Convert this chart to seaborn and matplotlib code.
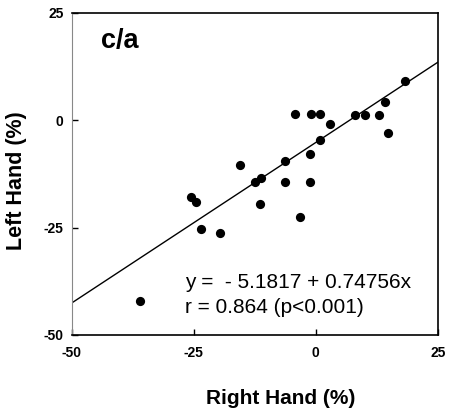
import matplotlib
matplotlib.use("Agg")
import matplotlib.pyplot as plt
import seaborn as sns
import numpy as np
import pandas as pd

# Data
right_hand = [18.2, 14.2, 13.0, 14.8, 10.0, 8.0, 2.8, 0.9, -1.0, -4.2,
              0.8, -1.1, -6.4, -15.5, -11.3, -12.5, -6.4, -1.2, -11.4, -3.3,
              -25.5, -24.5, -23.6, -19.7, -36.0]
left_hand = [9.1, 4.2, 1.2, -2.9, 1.2, 1.2, -0.8, 1.4, 1.4, 1.4,
             -4.6, -7.8, -9.5, -10.5, -13.5, -14.4, -14.5, -14.5, -19.4, -22.6,
             -17.9, -19.1, -25.3, -26.2, -42.0]
intercept = -5.1817
slope = 0.74756
line_x = [-50, 25]
x_ticks = [-50, -25, 0, 25]
y_ticks = [-50, -25, 0, 25]
panel_label = "c/a"
eq_lines = ["y =  - 5.1817 + 0.74756x", "r = 0.864 (p<0.001)"]

sns.set_theme(style="white")
plt.rcParams['font.family'] = ['Liberation Sans', 'DejaVu Sans']
plt.rcParams['text.color'] = 'black'
plt.rcParams['axes.labelcolor'] = 'black'
plt.rcParams['xtick.color'] = 'black'
plt.rcParams['ytick.color'] = 'black'

fig = plt.figure(figsize=(4.51, 4.13), dpi=100)
ax = fig.add_axes([0.159, 0.189, 0.812, 0.780])

df = pd.DataFrame({"Right Hand (%)": right_hand, "Left Hand (%)": left_hand})
sns.scatterplot(data=df, x="Right Hand (%)", y="Left Hand (%)", ax=ax,
                color="black", s=44, edgecolor="black", linewidth=0, zorder=3)

line_df = pd.DataFrame({"x": line_x, "y": [intercept + slope * v for v in line_x]})
sns.lineplot(data=line_df, x="x", y="y", ax=ax, color="black", linewidth=1.0, zorder=2)

ax.set_xlim(-50, 25)
ax.set_ylim(-50, 25)
ax.set_xticks(x_ticks)
ax.set_yticks(y_ticks)
ax.set_xticklabels([str(t) for t in x_ticks], fontsize=10, fontweight="bold")
ax.set_yticklabels([str(t) for t in y_ticks], fontsize=10, fontweight="bold")
ax.tick_params(axis="both", direction="in", length=4, width=1, color="black",
               bottom=True, left=True, top=False, right=False)
ax.tick_params(axis="x", pad=8)
ax.tick_params(axis="y", pad=6)

for side in ["top", "right", "bottom"]:
    ax.spines[side].set_color("black")
    ax.spines[side].set_linewidth(1.2)
ax.spines["left"].set_color("#888888")
ax.spines["left"].set_linewidth(0.8)

ax.set_xlabel("Right Hand (%)", fontsize=15, fontweight="bold")
ax.xaxis.set_label_coords(0.57, -0.168)
ax.set_ylabel("Left Hand (%)", fontsize=15.5, fontweight="bold")
ax.yaxis.set_label_coords(-0.123, 0.48)

ax.text(0.08, 0.891, panel_label, transform=ax.transAxes, fontsize=19.5,
        fontweight="bold", ha="left", va="baseline")
ax.text(0.31, 0.146, eq_lines[0], transform=ax.transAxes, fontsize=15,
        ha="left", va="baseline")
ax.text(0.31, 0.068, eq_lines[1], transform=ax.transAxes, fontsize=15,
        ha="left", va="baseline")

fig.savefig("out.png", dpi=100)
